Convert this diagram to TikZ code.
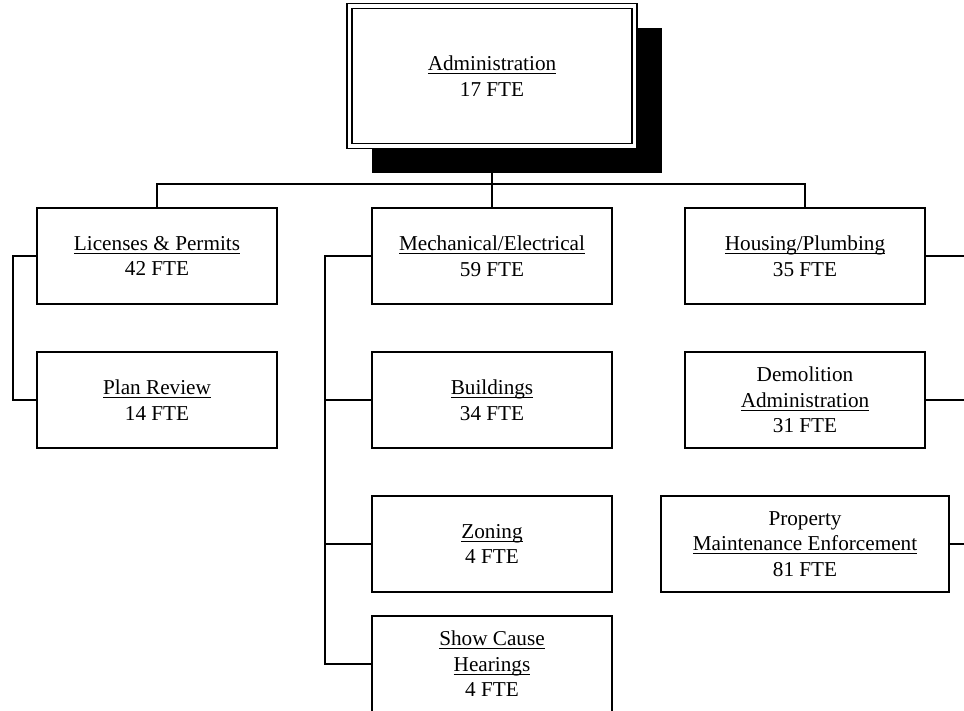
\documentclass[tikz,border=0pt]{standalone}
\usepackage{fontspec}
\setmainfont{Liberation Serif}
\usetikzlibrary{backgrounds}
\newcommand\ulx[1]{\underline{\smash{#1}}\vphantom{#1}}
\tikzset{
  unit/.style={draw, fill=white, line width=0.8pt, minimum width=120pt, minimum height=48pt,
    inner sep=0pt, outer sep=0pt, align=center, font=\fontsize{10.6}{12.75}\selectfont},
  wideunit/.style={unit, minimum width=144pt},
  head/.style={unit, double, line width=0.8pt, double distance=1.6pt, minimum width=142.5pt, minimum height=70pt},
  link/.style={line width=0.8pt},
}
\begin{document}
\begin{tikzpicture}[x=0.5pt,y=-0.5pt]
      \useasboundingbox (0,0) rectangle (964,711);
      \draw
        (492,76) node[head] (adm){\ulx{Administration}\\17 FTE}
        (157,256) node[unit] (lic){\ulx{Licenses \& Permits}\\42 FTE}
        (492,256) node[unit] (mech){\ulx{Mechanical/Electrical}\\59 FTE}
        (805,256) node[unit] (hous){\ulx{Housing/Plumbing}\\35 FTE}
        (157,400) node[unit] (plan){\ulx{Plan Review}\\14 FTE}
        (492,400) node[unit] (bldg){\ulx{Buildings}\\34 FTE}
        (492,544) node[unit] (zon){\ulx{Zoning}\\4 FTE}
        (492,664) node[unit] (show){\ulx{Show Cause}\\\ulx{Hearings}\\4 FTE}
        (805,400) node[unit] (demo){Demolition\\\ulx{Administration}\\31 FTE}
        (805,544) node[wideunit] (prop){Property\\\ulx{Maintenance Enforcement}\\81 FTE};
      \begin{scope}[on background layer]
        \fill ([xshift=11pt,yshift=-11pt]adm.north west) rectangle ([xshift=13.5pt,yshift=-13.5pt]adm.south east) coordinate (shade);
      \end{scope}
      \coordinate (rim) at (964,0);
      \begin{scope}[link]
        \draw (adm.south |- shade) -- (492,184) coordinate (bus);
        \draw (lic.north) |- (bus) -| (hous.north);
        \draw (bus) -- (mech.north);
        \draw (lic.west) -- ++(-24,0) |- (plan.west);
        \draw (mech.west) -- ++(-47,0) coordinate (trunk) |- (show.west);
        \draw (bldg.west) -- (bldg.west -| trunk);
        \draw (zon.west) -- (zon.west -| trunk);
        \draw (hous.east) -- (hous.east -| rim);
        \draw (demo.east) -- (demo.east -| rim);
        \draw (prop.east) -- (prop.east -| rim);
      \end{scope}
    \end{tikzpicture}
\end{document}
